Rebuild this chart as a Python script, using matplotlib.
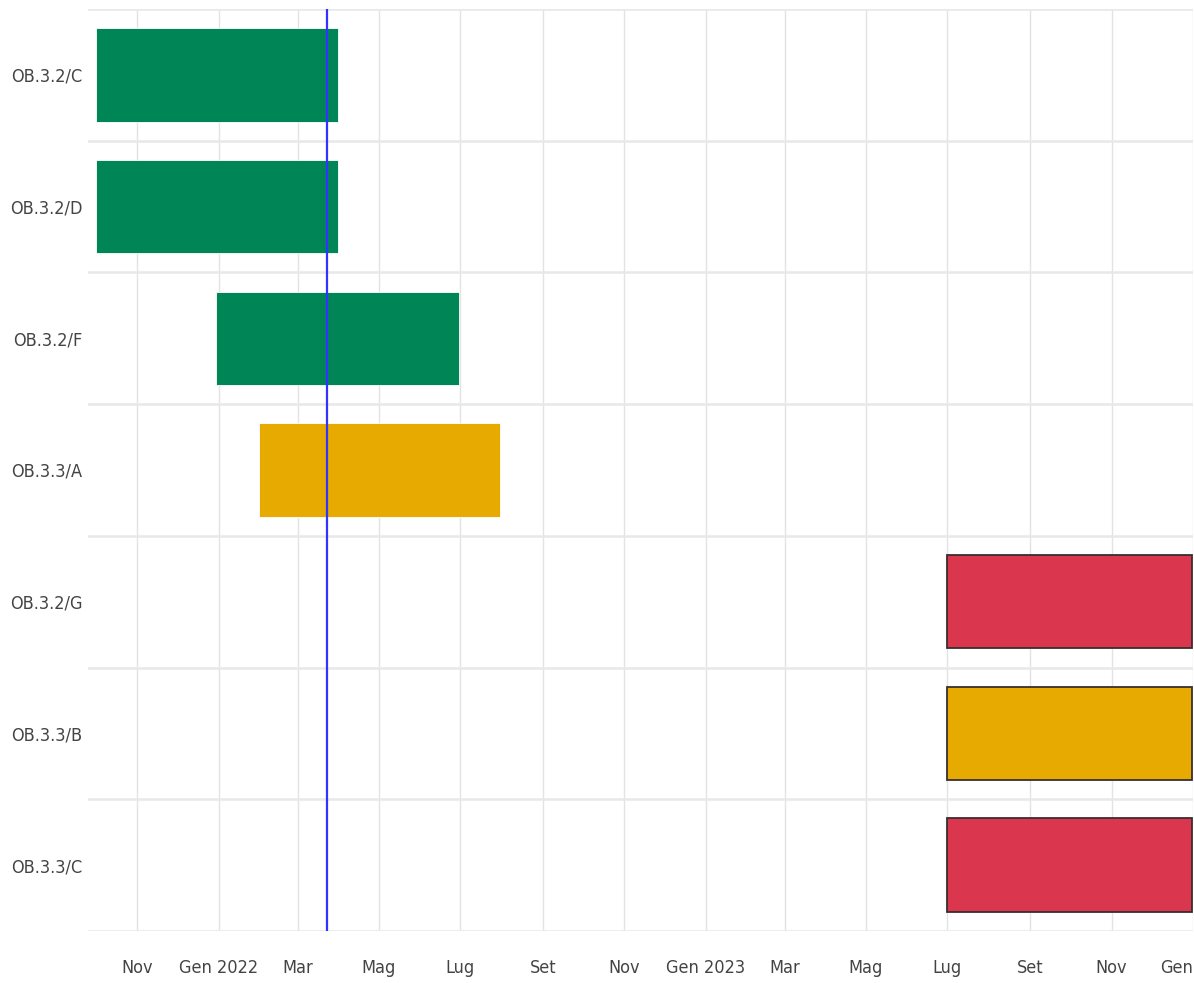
import numpy as np
import matplotlib
matplotlib.use("Agg")
import matplotlib.pyplot as plt
import matplotlib.dates as mdates
from datetime import datetime

tasks = ["OB.3.2/C", "OB.3.2/D", "OB.3.2/F", "OB.3.3/A", "OB.3.2/G", "OB.3.3/B", "OB.3.3/C"]
starts = ["2021-10-01", "2021-10-01", "2021-12-30", "2022-01-31", "2023-07-01", "2023-07-01", "2023-07-01"]
ends = ["2022-03-31", "2022-03-31", "2022-06-30", "2022-07-31", "2023-12-31", "2023-12-31", "2023-12-31"]
status = ["ok", "ok", "ok", "warn", "late", "warn", "late"]
today = "2022-03-23"

tick_dates = ["2021-11-01", "2022-01-01", "2022-03-01", "2022-05-01", "2022-07-01", "2022-09-01",
              "2022-11-01", "2023-01-01", "2023-03-01", "2023-05-01", "2023-07-01", "2023-09-01",
              "2023-11-01", "2024-01-01"]
tick_labels = ["Nov", "Gen 2022", "Mar", "Mag", "Lug", "Set", "Nov", "Gen 2023", "Mar", "Mag",
               "Lug", "Set", "Nov", "Gen"]

colors = {"ok": "#008556", "warn": "#E6AA00", "late": "#DA374E"}

plt.rcParams['font.family'] = ['DejaVu Sans']
plt.rcParams['font.stretch'] = 'condensed'

def d(s):
    return mdates.date2num(datetime.strptime(s, "%Y-%m-%d"))

fig = plt.figure(figsize=(11.94, 9.83), dpi=100)
ax = fig.add_axes([88/1194, 1 - 931/983, (1193 - 88)/1194, (931 - 9)/983])

y = np.arange(len(tasks))
for i in range(len(tasks)):
    s = d(starts[i])
    e = d(ends[i])
    # bars not yet started get a dark outline
    if s > d(today):
        ec, lw = "#3a2e2e", 1.3
    else:
        ec, lw = "#ffffff", 0.6
    ax.barh(y[i], e - s, left=s, height=0.71, color=colors[status[i]],
            edgecolor=ec, linewidth=lw, zorder=3)

ax.axvline(d(today), color="#3333ff", linewidth=1.6, zorder=4)

ax.set_ylim(len(tasks) - 0.5, -0.5)
ax.set_xlim(d("2021-09-25"), d("2024-01-01"))

ax.set_yticks(y)
ax.set_yticklabels(tasks, fontsize=13, color="#444444", fontstretch='condensed')
ax.set_yticks(np.arange(len(tasks) + 1) - 0.5, minor=True)
ax.set_xticks([d(t) for t in tick_dates])
ax.set_xticklabels(tick_labels, fontsize=13, color="#444444", fontstretch='condensed')
last = ax.get_xticklabels()[-1]
last.set_horizontalalignment("right")

ax.tick_params(axis="y", length=0, pad=4, which="both")
ax.tick_params(axis="x", length=0, pad=20)
ax.grid(axis="x", color="#e3e3e3", linewidth=1, zorder=0)
ax.grid(axis="y", which="minor", color="#e8e8e8", linewidth=1.8, zorder=0)
ax.grid(axis="y", which="major", visible=False)
for sp in ax.spines.values():
    sp.set_visible(False)

plt.savefig("out.png", dpi=100)
